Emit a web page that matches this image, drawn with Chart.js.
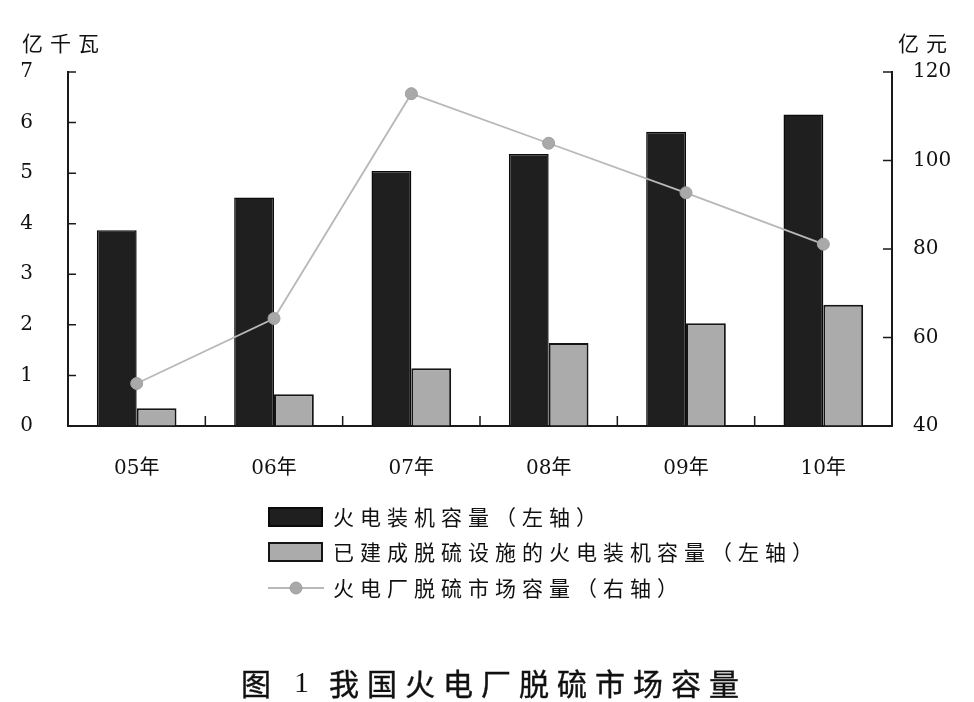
<!DOCTYPE html>
<html>
<head>
<meta charset="utf-8">
<script src="https://cdn.jsdelivr.net/npm/chart.js@4"></script>
<style>
  html, body { margin:0; padding:0; background:#fff; }
  #wrap { position:relative; width:974px; height:702px; overflow:hidden; }
  #c { position:absolute; left:0; top:0; }
  .t { position:absolute; white-space:nowrap; color:#111; font-family:'Noto Sans CJK SC','Liberation Serif',sans-serif; line-height:1; }
  .unit { font-size:21px; letter-spacing:7px; }
  .leg { font-size:21px; letter-spacing:6px; }
  .cap { font-size:30px; font-weight:400; -webkit-text-stroke:0.4px #111; }
</style>
</head>
<body>
<div id="wrap">
  <canvas id="c" width="974" height="702"></canvas>
  <div class="t unit" id="unitL" style="left:22px; top:32px;"></div>
  <div class="t unit" id="unitR" style="left:898px; top:32px;"></div>
  <div id="legend"></div>
  <div class="t cap" style="left:241px; top:667px;">图</div>
  <div class="t cap" style="left:294px; top:667px; font-family:'Liberation Serif',serif; -webkit-text-stroke:0;">1</div>
  <div class="t cap" id="capMain" style="left:329px; top:667px; letter-spacing:8px;"></div>
</div>
<script>
// ---- data ----
const categories = ['05年', '06年', '07年', '08年', '09年', '10年'];
const thermalCapacity = [3.87, 4.52, 5.04, 5.38, 5.82, 6.16];      // 亿千瓦 (left)
const desulfCapacity  = [0.35, 0.63, 1.14, 1.64, 2.03, 2.40];      // 亿千瓦 (left)
const marketSize      = [49.6, 64.3, 115.1, 103.9, 92.7, 81.1];    // 亿元 (right)
const leftTicks  = [0, 1, 2, 3, 4, 5, 6, 7];
const rightTicks = [40, 60, 80, 100, 120];
const seriesLabels = ['火电装机容量（左轴）', '已建成脱硫设施的火电装机容量（左轴）', '火电厂脱硫市场容量（右轴）'];
const leftUnit = '亿千瓦';
const rightUnit = '亿元';
const caption = '我国火电厂脱硫市场容量';

document.getElementById('unitL').textContent = leftUnit;
document.getElementById('unitR').textContent = rightUnit;
document.getElementById('capMain').textContent = caption;

const AXIS_COLOR = '#1a1a1a';
const tickFont = { family: "'DejaVu Serif','Noto Sans CJK SC',serif", size: 20 };

const inwardTicks = {
  id: 'inwardTicks',
  afterDatasetsDraw(chart) {
    const { ctx, chartArea, scales } = chart;
    ctx.save();
    ctx.strokeStyle = AXIS_COLOR;
    ctx.lineWidth = 1.5;
    ctx.beginPath();
    scales.y.ticks.forEach(t => {
      const py = scales.y.getPixelForValue(t.value);
      ctx.moveTo(chartArea.left, py); ctx.lineTo(chartArea.left + 8, py);
    });
    scales.y1.ticks.forEach(t => {
      const py = scales.y1.getPixelForValue(t.value);
      ctx.moveTo(chartArea.right - 9, py); ctx.lineTo(chartArea.right, py);
    });
    for (let i = 0; i < categories.length - 1; i++) {
      const px = (scales.x.getPixelForValue(i) + scales.x.getPixelForValue(i + 1)) / 2;
      ctx.moveTo(px, chartArea.bottom); ctx.lineTo(px, chartArea.bottom - 10);
    }
    ctx.stroke();
    ctx.restore();
  }
};

const chart = new Chart(document.getElementById('c'), {
  data: {
    labels: categories,
    datasets: [
      { type: 'bar', label: seriesLabels[0], data: thermalCapacity, yAxisID: 'y',
        backgroundColor: '#1f1f1f', borderColor: '#0a0a0a', borderWidth: 1.5,
        categoryPercentage: 0.58, barPercentage: 1, order: 1 },
      { type: 'bar', label: seriesLabels[1], data: desulfCapacity, yAxisID: 'y',
        backgroundColor: '#ababab', borderColor: '#151515', borderWidth: 2,
        categoryPercentage: 0.58, barPercentage: 1, order: 1 },
      { type: 'line', label: seriesLabels[2], data: marketSize, yAxisID: 'y1',
        borderColor: '#b8b8b8', borderWidth: 1.8, pointRadius: 6,
        pointBackgroundColor: '#a9a9a9', pointBorderColor: '#9e9e9e', pointBorderWidth: 1,
        tension: 0, order: 0 }
    ]
  },
  options: {
    responsive: false,
    animation: false,
    devicePixelRatio: 1,
    layout: { padding: { left: 0, right: 0, top: 72, bottom: 216 } },
    plugins: { legend: { display: false }, tooltip: { enabled: false }, title: { display: false } },
    scales: {
      x: {
        type: 'category', offset: true,
        grid: { display: true, drawOnChartArea: false, drawTicks: false },
        border: { display: true, color: AXIS_COLOR, width: 2 },
        ticks: { font: tickFont, color: '#111', padding: 31, maxRotation: 0 },
        afterFit(s) { s.height = 60; }
      },
      y: {
        position: 'left', min: 0, max: 7,
        grid: { display: true, drawOnChartArea: false, drawTicks: false },
        border: { display: true, color: AXIS_COLOR, width: 2 },
        afterBuildTicks(s) { s.ticks = leftTicks.map(v => ({ value: v })); },
        ticks: { font: tickFont, color: '#111', padding: 35 },
        afterFit(s) { s.width = 68; }
      },
      y1: {
        position: 'right', min: 40, max: 120,
        grid: { display: true, drawOnChartArea: false, drawTicks: false },
        border: { display: true, color: AXIS_COLOR, width: 2 },
        afterBuildTicks(s) { s.ticks = rightTicks.map(v => ({ value: v })); },
        ticks: { font: tickFont, color: '#111', padding: 21 },
        afterFit(s) { s.width = 82; }
      }
    }
  },
  plugins: [inwardTicks]
});

// ---- HTML legend built from the datasets ----
(function buildLegend() {
  const legend = document.getElementById('legend');
  const rowsY = [517, 552, 588];
  chart.data.datasets.forEach((ds, i) => {
    const cy = rowsY[i];
    const sw = document.createElement('div');
    sw.style.position = 'absolute';
    if (ds.type === 'bar') {
      sw.style.left = '268px'; sw.style.top = (cy - 10) + 'px';
      sw.style.width = '55px'; sw.style.height = '20px';
      sw.style.boxSizing = 'border-box';
      sw.style.background = ds.backgroundColor;
      sw.style.border = '2px solid ' + ds.borderColor;
    } else {
      sw.style.left = '268px'; sw.style.top = (cy - 8) + 'px';
      sw.style.width = '56px'; sw.style.height = '16px';
      sw.innerHTML = '<svg width="56" height="16"><line x1="0" y1="8" x2="56" y2="8" stroke="' + ds.borderColor +
        '" stroke-width="1.8"/><circle cx="28" cy="8" r="6" fill="' + ds.pointBackgroundColor +
        '" stroke="' + ds.pointBorderColor + '"/></svg>';
    }
    legend.appendChild(sw);
    const tx = document.createElement('div');
    tx.className = 't leg';
    tx.style.left = '333px'; tx.style.top = (cy - 11) + 'px';
    tx.textContent = ds.label;
    legend.appendChild(tx);
  });
})();
</script>
</body>
</html>
